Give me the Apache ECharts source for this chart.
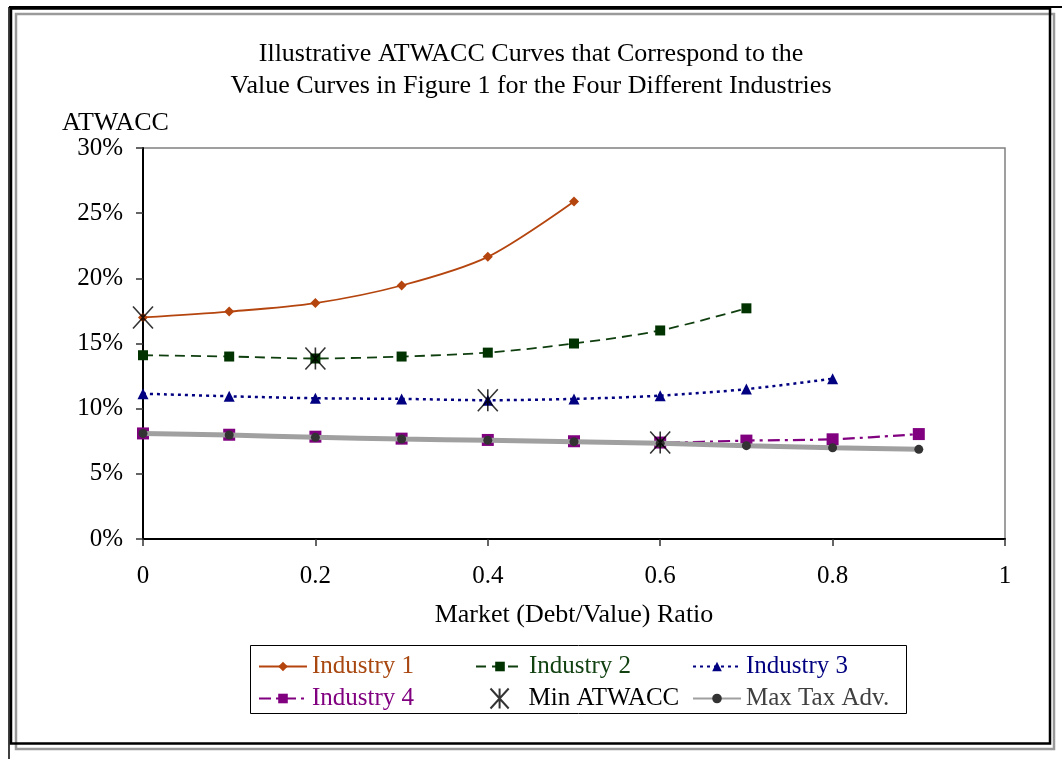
<!DOCTYPE html>
<html>
<head>
<meta charset="utf-8">
<script src="https://cdn.jsdelivr.net/npm/echarts@6/dist/echarts.min.js"></script>
<style>
html,body{margin:0;padding:0;background:#fff;}
#chart{width:1062px;height:759px;}
</style>
</head>
<body>
<div id="chart"></div>
<script>
// ---- data ----
var debtRatio = [0, 0.1, 0.2, 0.3, 0.4, 0.5, 0.6, 0.7, 0.8, 0.9];
var industry1 = [0.170, 0.1745, 0.181, 0.1945, 0.2165, 0.259];
var industry2 = [0.141, 0.140, 0.1385, 0.140, 0.143, 0.150, 0.160, 0.177];
var industry3 = [0.1115, 0.1095, 0.108, 0.1075, 0.1065, 0.1075, 0.110, 0.115, 0.123];
var industry4 = [0.081, 0.080, 0.0785, 0.077, 0.076, 0.075, 0.074, 0.0755, 0.0765, 0.0805];
var maxTaxAdv = [0.081, 0.0798, 0.078, 0.0767, 0.0757, 0.0747, 0.0734, 0.0716, 0.070, 0.0688];
var minAtwaccX = [0, 0.2, 0.4, 0.6];
var minAtwaccY = [0.170, 0.1385, 0.1065, 0.074];
var seriesNames = ['Industry 1', 'Industry 2', 'Industry 3', 'Industry 4', 'Min ATWACC', 'Max Tax Adv.'];
var titleLines = ['Illustrative ATWACC Curves that Correspond to the', 'Value Curves in Figure 1 for the Four Different Industries'];
var xAxisName = 'Market (Debt/Value) Ratio';
var yAxisName = 'ATWACC';

function pairs(xs, ys) { return ys.map(function (v, i) { return [xs[i], v]; }); }

var FONT = '"Liberation Serif", "Times New Roman", serif';
var C1 = '#B5450E', C2 = '#0F3F0F', C3 = '#000080', C4 = '#800080', CG = '#333333';

var chart = echarts.init(document.getElementById('chart'), null, {renderer: 'canvas'});

function legendAt(name, left, top, color, extra) {
  var o = {
    data: [{name: name, textStyle: {color: color}}],
    left: left, top: top, padding: 0,
    itemWidth: 48, itemHeight: 12, itemGap: 0,
    selectedMode: false,
    textStyle: {fontFamily: FONT, fontSize: 25, color: color}
  };
  if (extra) { for (var k in extra) o[k] = extra[k]; }
  return o;
}

var option = {
  backgroundColor: '#ffffff',
  animation: false,
  title: {
    text: titleLines.join('\n'),
    left: 'center', top: 33,
    textStyle: {fontFamily: FONT, fontSize: 26, fontWeight: 'normal', color: '#000', lineHeight: 32}
  },
  grid: {left: 143, right: 57, top: 148, bottom: 220, show: true, borderColor: '#808080', borderWidth: 1.5},
  xAxis: {
    type: 'value', min: 0, max: 1, interval: 0.2,
    name: xAxisName, nameLocation: 'middle', nameGap: 63,
    nameTextStyle: {fontFamily: FONT, fontSize: 26, color: '#000'},
    axisLine: {show: true, lineStyle: {color: '#000', width: 2}},
    axisTick: {show: true, length: 7, lineStyle: {color: '#333', width: 1.5}},
    axisLabel: {fontFamily: FONT, fontSize: 25, color: '#000', margin: 25},
    splitLine: {show: false}
  },
  yAxis: {
    type: 'value', min: 0, max: 0.3, interval: 0.05,
    axisLine: {show: true, lineStyle: {color: '#000', width: 2}},
    axisTick: {show: true, length: 7, lineStyle: {color: '#333', width: 1.5}},
    axisLabel: {fontFamily: FONT, fontSize: 25, color: '#000', margin: 20, padding: [4, 0, 0, 0],
      formatter: function (v) { return Math.round(v * 100) + '%'; }},
    splitLine: {show: false}
  },
  legend: [
    legendAt(seriesNames[0], 258, 654, '#A8470F'),
    legendAt(seriesNames[1], 475, 654, '#124212'),
    legendAt(seriesNames[2], 692, 654, C3),
    legendAt(seriesNames[3], 258, 686, C4),
    legendAt(seriesNames[4], 488, 686, '#000', {itemHeight: 20}),
    legendAt(seriesNames[5], 692, 686, '#404040')
  ],
  graphic: [
    {type: 'rect', shape: {x: 16, y: 14, width: 1038, height: 735}, style: {fill: 'none', stroke: '#9a9a9a', lineWidth: 2.5}, silent: true},
    {type: 'rect', shape: {x: 11, y: 8.5, width: 1039, height: 735}, style: {fill: 'none', stroke: '#000', lineWidth: 2.5}, silent: true},
    {type: 'line', shape: {x1: 9, y1: 7, x2: 1062, y2: 7}, style: {stroke: '#000', lineWidth: 2}, silent: true},
    {type: 'line', shape: {x1: 9, y1: 7, x2: 9, y2: 759}, style: {stroke: '#000', lineWidth: 1.5}, silent: true},
    {type: 'rect', shape: {x: 250.5, y: 645.5, width: 656, height: 68}, style: {fill: 'none', stroke: '#000', lineWidth: 1}, silent: true},
    {type: 'text', left: 62, top: 110, style: {text: yAxisName, font: '26px ' + FONT, fill: '#000'}, silent: true}
  ],
  series: [
    {
      name: seriesNames[0], type: 'line', smooth: 0.3,
      data: pairs(debtRatio, industry1),
      symbol: 'diamond', symbolSize: 10,
      lineStyle: {color: C1, width: 1.8},
      itemStyle: {color: C1}, z: 3
    },
    {
      name: seriesNames[1], type: 'line', smooth: 0.3,
      data: pairs(debtRatio, industry2),
      symbol: 'rect', symbolSize: 10,
      lineStyle: {color: C2, width: 1.8, type: [10, 6]},
      itemStyle: {color: '#003300'}, z: 3
    },
    {
      name: seriesNames[2], type: 'line', smooth: 0.3,
      data: pairs(debtRatio, industry3),
      symbol: 'triangle', symbolSize: 11,
      lineStyle: {color: C3, width: 2.5, type: [3, 4]},
      itemStyle: {color: C3}, z: 3
    },
    {
      name: seriesNames[3], type: 'line', smooth: 0.3,
      data: pairs(debtRatio, industry4),
      symbol: 'rect', symbolSize: 12,
      lineStyle: {color: C4, width: 2.2, type: [12, 5, 3, 5]},
      itemStyle: {color: C4}, z: 3
    },
    {
      name: seriesNames[5], type: 'line', smooth: 0.2,
      data: pairs(debtRatio, maxTaxAdv),
      symbol: 'circle', symbolSize: 9,
      lineStyle: {color: '#a0a0a0', width: 5},
      itemStyle: {color: CG}, z: 4
    },
    {
      name: seriesNames[4], type: 'scatter',
      data: pairs(minAtwaccX, minAtwaccY),
      symbol: 'path://M0,0L20,22M20,0L0,22M10,0L10,22', symbolSize: [22, 22],
      symbolKeepAspect: true,
      itemStyle: {color: 'none', borderColor: '#000', borderWidth: 1.6}, z: 5
    }
  ]
};
chart.setOption(option);
</script>
</body>
</html>
